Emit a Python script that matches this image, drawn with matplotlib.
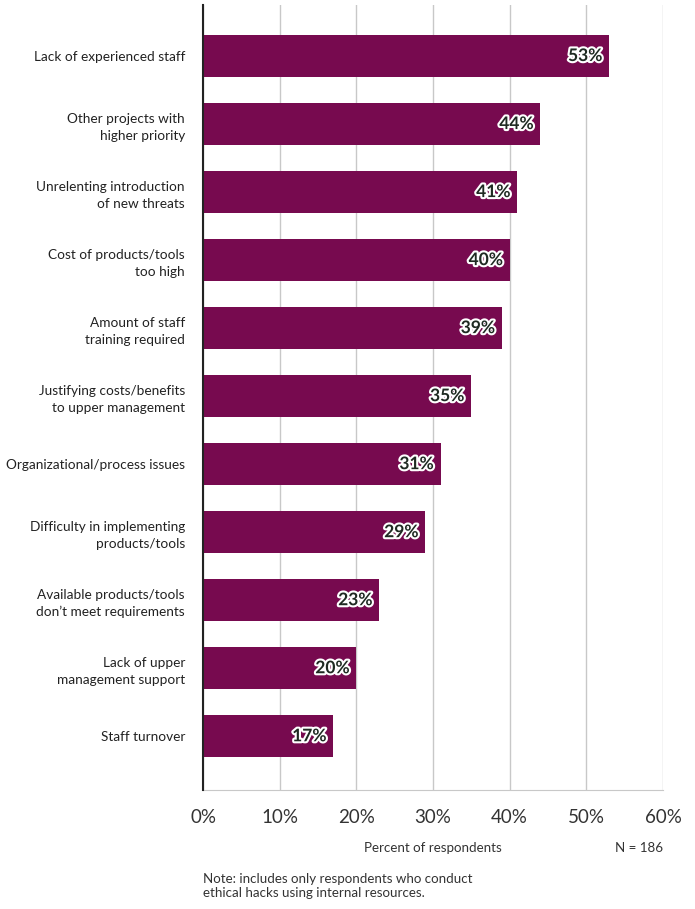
import matplotlib
matplotlib.use("Agg")
import matplotlib.pyplot as plt
import matplotlib.patheffects as pe

categories = [
    "Lack of experienced staff",
    "Other projects with\nhigher priority",
    "Unrelenting introduction\nof new threats",
    "Cost of products/tools\ntoo high",
    "Amount of staff\ntraining required",
    "Justifying costs/benefits\nto upper management",
    "Organizational/process issues",
    "Difficulty in implementing\nproducts/tools",
    "Available products/tools\ndon\u2019t meet requirements",
    "Lack of upper\nmanagement support",
    "Staff turnover",
]
values = [53, 44, 41, 40, 39, 35, 31, 29, 23, 20, 17]
xticks = [0, 10, 20, 30, 40, 50, 60]
xtick_labels = ["0%", "10%", "20%", "30%", "40%", "50%", "60%"]

plt.rcParams["font.family"] = ["Lato", "DejaVu Sans"]

W, H = 695, 909
fig = plt.figure(figsize=(W / 100, H / 100), dpi=100)
ax = fig.add_axes([203 / W, 1 - 790 / H, (663 - 203) / W, (790 - 5) / H])

bar_color = "#770a4f"
ypos = list(range(len(values)))
ax.barh(ypos, values, height=0.62, color=bar_color, zorder=2)

for y, v in zip(ypos, values):
    ax.text(v - 0.9, y, f"{v}%", ha="right", va="center", fontsize=12.5,
            color="#1f2a22", fontweight="bold", zorder=3,
            path_effects=[pe.withStroke(linewidth=3, foreground="white")])

ax.set_xlim(0, 60)
ax.set_ylim(len(values) - 1 + 0.79, -0.75)
ax.set_xticks(xticks)
ax.set_xticklabels(xtick_labels, fontsize=13.5, color="#333333")
ax.set_yticks(ypos)
ax.set_yticklabels(categories, fontsize=9.8, color="#222222", linespacing=1.45)
ax.tick_params(axis="both", length=0)
ax.tick_params(axis="x", pad=14)
ax.tick_params(axis="y", pad=13)

ax.grid(axis="x", color="#c8c8c8", linewidth=1, zorder=0)
ax.set_axisbelow(True)
for s in ["top", "right"]:
    ax.spines[s].set_visible(False)
ax.spines["left"].set_color("#222222")
ax.spines["left"].set_linewidth(1.5)
ax.spines["left"].set_zorder(4)
ax.spines["bottom"].set_color("#c8c8c8")

fig.text(433 / W, 1 - 848 / H, "Percent of respondents", ha="center", va="center",
         fontsize=9.6, color="#333333")
fig.text(663 / W, 1 - 848 / H, "N = 186", ha="right", va="center",
         fontsize=9.6, color="#333333")
fig.text(203 / W, 1 - 886 / H,
         "Note: includes only respondents who conduct\nethical hacks using internal resources.",
         ha="left", va="center", fontsize=9.6, color="#333333", linespacing=1.25)

fig.savefig("out.png", dpi=100)
